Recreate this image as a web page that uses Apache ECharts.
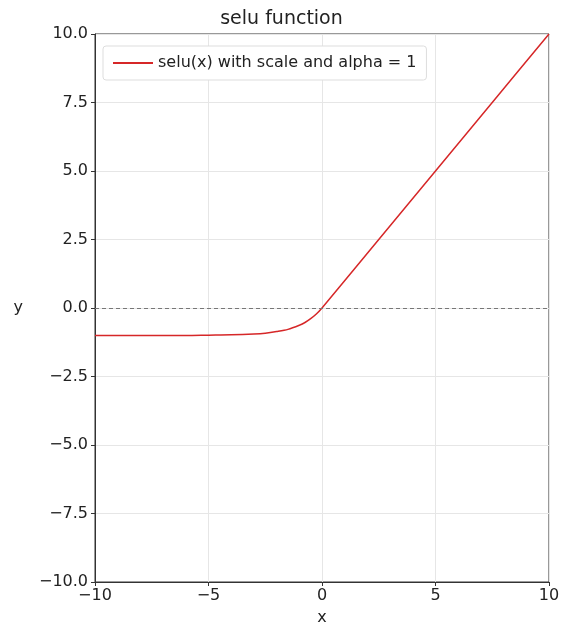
<!DOCTYPE html>
<html>
<head>
<meta charset="utf-8">
<script src="https://cdn.jsdelivr.net/npm/echarts@6/dist/echarts.min.js"></script>
<style>
  html, body { margin: 0; padding: 0; background: #fff; }
  #chart { width: 563px; height: 631px; }
</style>
</head>
<body>
<div id="chart"></div>
<script>
// values
var xs = [-10, -8, -6, -5, -4, -3, -2.5, -2, -1.5, -1, -0.75, -0.5, -0.25, 0, 2.5, 5, 7.5, 10]
var ys = [-1.0, -1.0, -1.0, -0.99, -0.98, -0.95, -0.92, -0.86, -0.78, -0.63, -0.53, -0.39, -0.22, 0, 2.5, 5, 7.5, 10]
var seriesName = 'selu(x) with scale and alpha = 1'

var points = []
for (var i = 0; i < xs.length; i++) {
  points.push([xs[i], ys[i]])
}

var font = 'DejaVu Sans'
var minus = function (v, digits) {
  var s = digits ? v.toFixed(digits) : String(v)
  return s.replace('-', '\u2212')
}

var chart = echarts.init(document.getElementById('chart'))
chart.setOption({
  animation: false,
  title: {
    text: 'selu function',
    left: 'center',
    top: 5,
    textStyle: { fontFamily: font, fontSize: 19, fontWeight: 'normal', color: '#222' }
  },
  legend: {
    left: 103,
    top: 46,
    padding: [9, 10, 9, 10],
    borderColor: '#ddd',
    borderWidth: 1,
    borderRadius: 3,
    backgroundColor: '#fff',
    itemWidth: 40,
    itemHeight: 2,
    itemGap: 15,
    textStyle: { fontFamily: font, fontSize: 16, color: '#222' },
    data: [{ name: seriesName, icon: 'rect' }]
  },
  grid: {
    left: 95, right: 14, top: 34, bottom: 48,
    show: true, borderColor: '#333', borderWidth: 1
  },
  xAxis: {
    type: 'value',
    min: -10, max: 10, interval: 5,
    name: 'x',
    nameLocation: 'middle',
    nameGap: 28,
    nameTextStyle: { fontFamily: font, fontSize: 16, color: '#222' },
    axisLine: { show: true, onZero: false, lineStyle: { color: '#333' } },
    axisTick: { show: true, length: 4, lineStyle: { color: '#333' } },
    axisLabel: {
      fontFamily: font, fontSize: 16, color: '#222', margin: 6,
      formatter: function (v) { return minus(v) }
    },
    splitLine: { show: true, lineStyle: { color: '#e6e6e6' } }
  },
  yAxis: {
    type: 'value',
    min: -10, max: 10, interval: 2.5,
    name: 'y',
    nameLocation: 'middle',
    nameRotate: 0,
    nameGap: 72,
    nameTextStyle: { fontFamily: font, fontSize: 16, color: '#222' },
    axisLine: { show: true, onZero: false, lineStyle: { color: '#333' } },
    axisTick: { show: true, length: 4, lineStyle: { color: '#333' } },
    axisLabel: {
      fontFamily: font, fontSize: 16, color: '#222', margin: 7,
      formatter: function (v) { return minus(v, 1) }
    },
    splitLine: { show: true, lineStyle: { color: '#e6e6e6' } }
  },
  series: [
    {
      name: seriesName,
      type: 'line',
      data: points,
      smooth: 0.3,
      showSymbol: false,
      lineStyle: { color: '#d62728', width: 1.5 },
      itemStyle: { color: '#d62728' },
      markLine: {
        silent: true,
        symbol: 'none',
        label: { show: false },
        lineStyle: { color: '#777', type: [4, 3], width: 1 },
        data: [{ yAxis: 0 }]
      }
    }
  ]
})
</script>
</body>
</html>
